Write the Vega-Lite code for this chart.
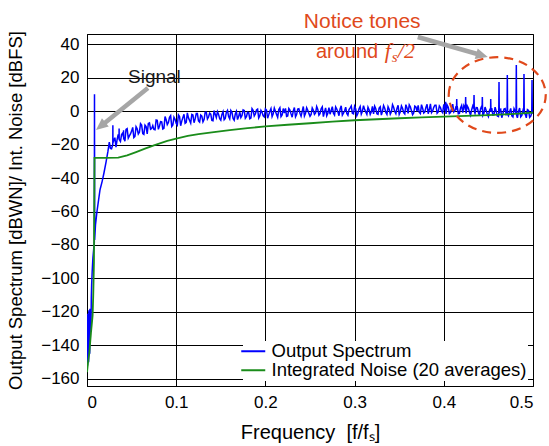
{
  "$schema": "https://vega.github.io/schema/vega-lite/v6.json",
  "width": 446,
  "height": 352,
  "autosize": {"type": "none"},
  "padding": {"left": 87, "top": 34, "right": 16, "bottom": 60},
  "background": "white",
  "config": {
    "view": {"stroke": "black", "strokeWidth": 1},
    "font": "Liberation Sans",
    "axis": {
      "labelFont": "Liberation Sans", "labelFontSize": 17, "labelColor": "black",
      "titleFont": "Liberation Sans", "titleFontWeight": "normal", "titleColor": "black",
      "ticks": false, "domainColor": "black", "domainWidth": 1,
      "gridColor": "black", "gridOpacity": 1, "gridWidth": 1
    },
    "legend": {
      "orient": "bottom-right", "offset": 5, "labelFont": "Liberation Sans", "labelFontSize": 18.5,
      "labelColor": "black", "symbolType": "M-2,0 L2,0", "symbolStrokeWidth": 2, "symbolSize": 144,
      "symbolFillColor": "transparent",
      "fillColor": "white", "padding": 1, "rowPadding": -4, "labelOffset": 9, "labelLimit": 400
    }
  },
  "datasets": {
    "spec": [
      {"f":0,"v":-150},{"f":0.0003,"v":-127},{"f":0.0006,"v":-152},{"f":0.0009,"v":-121},{"f":0.0012,"v":-147},{"f":0.0015,"v":-124},{"f":0.0018,"v":-150},{"f":0.0021,"v":-119},{"f":0.0024,"v":-143},{"f":0.0027,"v":-122},{"f":0.003,"v":-145},{"f":0.0033,"v":-118},{"f":0.0036,"v":-138},{"f":0.004,"v":-121},{"f":0.0044,"v":-132},{"f":0.0048,"v":-112},{"f":0.0052,"v":-104},{"f":0.0058,"v":-96},{"f":0.0066,"v":-88},{"f":0.0074,"v":-83},{"f":0.0082,"v":-79},{"f":0.0084,"v":10},{"f":0.0086,"v":-77},{"f":0.0095,"v":-68},{"f":0.0112,"v":-60},{"f":0.013,"v":-53},{"f":0.0146,"v":-47},{"f":0.017,"v":-42},{"f":0.019,"v":-37},{"f":0.0215,"v":-30},{"f":0.0235,"v":-24},
      {"f":0.025,"v":-18.6},{"f":0.02625,"v":-22.3},{"f":0.0275,"v":-22.5},{"f":0.0289,"v":-20},{"f":0.029,"v":-8.5},{"f":0.0291,"v":-19},{"f":0.03,"v":-17.6},{"f":0.03125,"v":-15.9},{"f":0.0325,"v":-21.6},{"f":0.03375,"v":-17.1},{"f":0.035,"v":-14.0},{"f":0.0359,"v":-16.5},{"f":0.036,"v":-10.5},{"f":0.0361,"v":-17},{"f":0.0375,"v":-18.2},{"f":0.03875,"v":-14.1},{"f":0.04,"v":-13.2},{"f":0.0409,"v":-15.5},{"f":0.041,"v":-11.5},{"f":0.0411,"v":-16},{"f":0.04125,"v":-15.9},{"f":0.0425,"v":-18.0},{"f":0.04375,"v":-11.0},{"f":0.045,"v":-10.5},{"f":0.04625,"v":-16.2},{"f":0.0475,"v":-14.8},{"f":0.04875,"v":-13.7},{"f":0.05,"v":-12.0},{"f":0.05125,"v":-9.8},{"f":0.0525,"v":-15.9},{"f":0.05375,"v":-15.2},{"f":0.055,"v":-9.4},{"f":0.05625,"v":-10.6},{"f":0.0575,"v":-13.7},{"f":0.05875,"v":-12.6},{"f":0.06,"v":-7.5},{"f":0.06125,"v":-8.4},{"f":0.0625,"v":-13.4},{"f":0.06375,"v":-13.9},{"f":0.065,"v":-8.4},{"f":0.06625,"v":-9.3},{"f":0.0675,"v":-13.7},{"f":0.06875,"v":-7.4},{"f":0.07,"v":-7.1},{"f":0.07125,"v":-10.9},{"f":0.0725,"v":-10.5},{"f":0.07375,"v":-8.7},{"f":0.075,"v":-11.0},{"f":0.07625,"v":-11.2},{"f":0.0775,"v":-5.3},{"f":0.07875,"v":-5.5},{"f":0.08,"v":-10.9},{"f":0.08125,"v":-8.9},{"f":0.0825,"v":-6.3},{"f":0.08375,"v":-6.5},{"f":0.085,"v":-10.7},{"f":0.08625,"v":-10.3},{"f":0.0875,"v":-3.3},{"f":0.08875,"v":-5.2},{"f":0.09,"v":-8.1},{"f":0.09125,"v":-6.9},{"f":0.0925,"v":-3.7},{"f":0.09375,"v":-2.7},{"f":0.095,"v":-9.2},{"f":0.09625,"v":-8.3},{"f":0.0975,"v":-3.7},{"f":0.09875,"v":-5.0},{"f":0.1,"v":-7.4},{"f":0.10125,"v":-8.4},{"f":0.1025,"v":-2.3},{"f":0.10375,"v":-3.3},{"f":0.105,"v":-8.8},{"f":0.10625,"v":-6.0},{"f":0.1075,"v":-3.8},{"f":0.10875,"v":-2.0},{"f":0.11,"v":-7.3},{"f":0.11125,"v":-6.8},{"f":0.1125,"v":-1.1},{"f":0.11375,"v":-4.1},{"f":0.115,"v":-5.6},{"f":0.11625,"v":-7.2},{"f":0.1175,"v":-2.0},{"f":0.11875,"v":-2.4},{"f":0.12,"v":-7.0},
      {"f":0.12125,"v":-4.7},{"f":0.1225,"v":-1.5},{"f":0.12375,"v":-1.5},{"f":0.125,"v":-5.9},{"f":0.12625,"v":-6.6},{"f":0.1275,"v":-2.4},{"f":0.12875,"v":-3.1},{"f":0.13,"v":-6.5},{"f":0.13125,"v":-5.1},{"f":0.1325,"v":-0.7},{"f":0.13375,"v":-0.7},{"f":0.135,"v":-4.8},{"f":0.13625,"v":-3.6},{"f":0.1375,"v":-1.2},{"f":0.13875,"v":-1.8},{"f":0.14,"v":-5.6},{"f":0.14125,"v":-5.8},{"f":0.1425,"v":0.2},{"f":0.14375,"v":-1.9},{"f":0.145,"v":-3.9},{"f":0.14625,"v":-0.4},{"f":0.1475,"v":-2.0},{"f":0.14875,"v":-4.6},{"f":0.15,"v":-5.5},{"f":0.15125,"v":-2.0},{"f":0.1525,"v":-0.4},{"f":0.15375,"v":-5.2},{"f":0.155,"v":-4.4},{"f":0.15625,"v":-0.7},{"f":0.1575,"v":0.4},{"f":0.15875,"v":-3.3},{"f":0.16,"v":-4.7},{"f":0.16125,"v":0.3},{"f":0.1625,"v":-0.8},{"f":0.16375,"v":-4.4},{"f":0.165,"v":-5.5},{"f":0.16625,"v":-1.8},{"f":0.1675,"v":-0.2},{"f":0.16875,"v":-5.1},{"f":0.17,"v":-3.3},{"f":0.17125,"v":-0.5},{"f":0.1725,"v":-3.9},{"f":0.17375,"v":-2.7},{"f":0.175,"v":0.7},{"f":0.17625,"v":0.3},{"f":0.1775,"v":-4.3},{"f":0.17875,"v":-3.4},{"f":0.18,"v":-0.7},{"f":0.18125,"v":-0.9},{"f":0.1825,"v":-4.6},{"f":0.18375,"v":-4.2},{"f":0.185,"v":1.4},{"f":0.18625,"v":0.4},{"f":0.1875,"v":-2.9},{"f":0.18875,"v":-1.8},{"f":0.19,"v":0.6},{"f":0.19125,"v":1.1},{"f":0.1925,"v":-4.1},{"f":0.19375,"v":-2.8},{"f":0.195,"v":0.4},{"f":0.19625,"v":-0.8},{"f":0.1975,"v":-2.9},{"f":0.19875,"v":-3.5},{"f":0.2,"v":1.3},
      {"f":0.20125,"v":0.6},{"f":0.2025,"v":-4.3},{"f":0.20375,"v":-2.3},{"f":0.205,"v":-0.2},{"f":0.20625,"v":1.4},{"f":0.2075,"v":-3.3},{"f":0.20875,"v":-1.6},{"f":0.21,"v":1.8},{"f":0.21125,"v":-0.1},{"f":0.2125,"v":-2.0},{"f":0.21375,"v":-3.7},{"f":0.215,"v":0.9},{"f":0.21625,"v":2.0},{"f":0.2175,"v":-3.4},{"f":0.21875,"v":-2.4},{"f":0.22,"v":1.5},{"f":0.22125,"v":-1.2},{"f":0.2225,"v":1.6},{"f":0.22375,"v":-3.2},{"f":0.225,"v":-2.9},{"f":0.22625,"v":1.5},{"f":0.2275,"v":0.5},{"f":0.22875,"v":-1.7},{"f":0.23,"v":-3.7},{"f":0.23125,"v":0.0},{"f":0.2325,"v":2.1},{"f":0.23375,"v":-3.5},{"f":0.235,"v":-2.1},{"f":0.23625,"v":1.2},{"f":0.2375,"v":1.4},{"f":0.23875,"v":-1.3},{"f":0.24,"v":-3.1},{"f":0.24125,"v":-0.2},{"f":0.2425,"v":2.7},{"f":0.24375,"v":-3.0},{"f":0.245,"v":-1.4},{"f":0.24625,"v":2.0},{"f":0.2475,"v":0.5},{"f":0.24875,"v":-1.4},{"f":0.25,"v":-3.1},
      {"f":0.25125,"v":-2.0},{"f":0.2525,"v":1.9},{"f":0.25375,"v":0.5},{"f":0.255,"v":-2.0},{"f":0.25625,"v":-1.1},{"f":0.2575,"v":2.7},{"f":0.25875,"v":1.0},{"f":0.26,"v":-2.5},{"f":0.26125,"v":-1.6},{"f":0.2625,"v":1.4},{"f":0.26375,"v":2.5},{"f":0.265,"v":-3.3},{"f":0.26625,"v":-0.6},{"f":0.2675,"v":1.9},{"f":0.26875,"v":-2.8},{"f":0.27,"v":-1.3},{"f":0.27125,"v":2.0},{"f":0.2725,"v":-1.9},{"f":0.27375,"v":0.3},{"f":0.275,"v":2.6},{"f":0.27625,"v":-1.3},{"f":0.2775,"v":-2.4},{"f":0.27875,"v":2.5},{"f":0.28,"v":1.2},{"f":0.28125,"v":-0.5},{"f":0.2825,"v":-2.8},{"f":0.28375,"v":1.3},{"f":0.285,"v":3.1},{"f":0.28625,"v":-2.4},{"f":0.2875,"v":-1.2},{"f":0.28875,"v":0.0},{"f":0.29,"v":2.3},{"f":0.29125,"v":-1.4},{"f":0.2925,"v":-2.5},{"f":0.29375,"v":0.9},{"f":0.295,"v":1.9},{"f":0.29625,"v":3.0},{"f":0.2975,"v":-1.3},{"f":0.29875,"v":-1.7},{"f":0.3,"v":2.8},
      {"f":0.30125,"v":1.2},{"f":0.3025,"v":-2.8},{"f":0.30375,"v":-1.3},{"f":0.305,"v":1.3},{"f":0.30625,"v":2.7},{"f":0.3075,"v":-1.8},{"f":0.30875,"v":-0.1},{"f":0.31,"v":3.2},{"f":0.31125,"v":1.0},{"f":0.3125,"v":-0.6},{"f":0.31375,"v":-2.0},{"f":0.315,"v":2.3},{"f":0.31625,"v":0.7},{"f":0.3175,"v":-2.0},{"f":0.31875,"v":-0.4},{"f":0.32,"v":2.8},{"f":0.32125,"v":-1.7},{"f":0.3225,"v":2.9},{"f":0.32375,"v":1.3},{"f":0.325,"v":-1.6},{"f":0.32625,"v":-2.0},{"f":0.3275,"v":1.8},{"f":0.32875,"v":2.6},{"f":0.33,"v":-2.4},{"f":0.33125,"v":-0.1},{"f":0.3325,"v":3.3},{"f":0.33375,"v":1.7},{"f":0.335,"v":-0.9},{"f":0.33625,"v":-2.1},{"f":0.3375,"v":2.6},{"f":0.33875,"v":1.1},{"f":0.34,"v":-1.9},{"f":0.34125,"v":-0.5},{"f":0.3425,"v":3.8},{"f":0.34375,"v":2.2},{"f":0.345,"v":-0.3},{"f":0.34625,"v":-1.6},{"f":0.3475,"v":1.6},{"f":0.34875,"v":3.4},{"f":0.35,"v":-2.0},
      {"f":0.35125,"v":-0.5},{"f":0.3525,"v":3.0},{"f":0.35375,"v":1.6},{"f":0.355,"v":-0.9},{"f":0.35625,"v":-1.7},{"f":0.3575,"v":3.8},{"f":0.35875,"v":1.9},{"f":0.36,"v":-1.4},{"f":0.36125,"v":3.7},{"f":0.3625,"v":2.5},{"f":0.36375,"v":0.2},{"f":0.365,"v":-2.2},{"f":0.36625,"v":-1.1},{"f":0.3675,"v":3.0},{"f":0.36875,"v":2.5},{"f":0.37,"v":-0.1},{"f":0.37125,"v":3.4},{"f":0.3725,"v":-0.8},{"f":0.37375,"v":-1.5},{"f":0.375,"v":3.8},{"f":0.37625,"v":1.7},{"f":0.3775,"v":-1.2},{"f":0.37875,"v":-0.5},{"f":0.38,"v":2.3},{"f":0.38125,"v":4.0},{"f":0.3825,"v":-1.6},{"f":0.38375,"v":0.9},{"f":0.385,"v":4.3},{"f":0.38625,"v":-1.0},{"f":0.3875,"v":0.0},{"f":0.38875,"v":2.2},{"f":0.39,"v":3.5},{"f":0.39125,"v":3.5},{"f":0.3925,"v":-1.3},{"f":0.39375,"v":-0.5},{"f":0.395,"v":3.1},{"f":0.39625,"v":2.1},{"f":0.3975,"v":-0.1},{"f":0.39875,"v":-1.0},{"f":0.4,"v":4.0},
      {"f":0.40125,"v":1.1},{"f":0.4018,"v":1.5},{"f":0.402,"v":5.5},{"f":0.4022,"v":1.0},{"f":0.4025,"v":-1.7},{"f":0.40375,"v":3.6},{"f":0.405,"v":2.3},{"f":0.40625,"v":-1.5},{"f":0.4075,"v":-0.9},{"f":0.40875,"v":1.6},{"f":0.41,"v":4.1},{"f":0.41125,"v":-0.6},{"f":0.4125,"v":0.2},{"f":0.41375,"v":2.9},{"f":0.4142,"v":1.0},{"f":0.4145,"v":7.2},{"f":0.4148,"v":0.5},{"f":0.415,"v":2.9},{"f":0.41625,"v":-1.6},{"f":0.4175,"v":-1.4},{"f":0.41875,"v":1.8},{"f":0.42,"v":3.3},{"f":0.42125,"v":-1.0},{"f":0.4225,"v":3.3},{"f":0.42375,"v":2.0},{"f":0.4242,"v":0.5},{"f":0.4245,"v":8.4},{"f":0.4248,"v":-0.5},{"f":0.425,"v":-1.4},{"f":0.42625,"v":3.1},{"f":0.4275,"v":1.8},{"f":0.42875,"v":-0.6},{"f":0.43,"v":-2.5},{"f":0.43125,"v":0.8},{"f":0.4325,"v":3.1},{"f":0.4336,"v":1.5},{"f":0.4339,"v":9.6},{"f":0.4342,"v":0.0},{"f":0.435,"v":-1.3},{"f":0.43625,"v":2.1},{"f":0.4375,"v":2.0},{"f":0.43875,"v":-0.7},{"f":0.44,"v":-2.6},{"f":0.44125,"v":1.4},{"f":0.4425,"v":3.0},{"f":0.4429,"v":1.0},{"f":0.4432,"v":8.4},{"f":0.4435,"v":0.0},{"f":0.44375,"v":-2.6},{"f":0.445,"v":-1.3},{"f":0.44625,"v":2.4},{"f":0.4475,"v":0.4},{"f":0.44875,"v":-1.9},{"f":0.45,"v":-3.3},{"f":0.45125,"v":0.4},{"f":0.4525,"v":1.7},{"f":0.4526,"v":7.2},{"f":0.4529,"v":-0.5},{"f":0.45375,"v":1.7},{"f":0.455,"v":-2.4},{"f":0.45625,"v":-2.3},{"f":0.4575,"v":2.3},{"f":0.45875,"v":-0.1},{"f":0.46,"v":-3.0},{"f":0.46125,"v":-3.3},{"f":0.4616,"v":-1.0},{"f":0.4619,"v":17.3},{"f":0.4622,"v":-1.5},{"f":0.4625,"v":0.8},{"f":0.46375,"v":1.1},{"f":0.465,"v":-4.0},{"f":0.46625,"v":-1.6},{"f":0.4675,"v":1.2},{"f":0.46875,"v":1.5},{"f":0.47,"v":-2.1},{"f":0.4709,"v":-1.5},{"f":0.4712,"v":21.5},{"f":0.4715,"v":-2.0},{"f":0.4725,"v":-2.9},{"f":0.47375,"v":-0.6},{"f":0.475,"v":1.6},{"f":0.47625,"v":-2.9},{"f":0.4775,"v":-3.5},{"f":0.47875,"v":1.4},{"f":0.48,"v":0.0},{"f":0.481,"v":-1.5},{"f":0.4813,"v":27.5},{"f":0.4816,"v":-2.5},{"f":0.4825,"v":-4.1},{"f":0.48375,"v":-0.3},{"f":0.485,"v":1.8},{"f":0.48625,"v":-3.5},{"f":0.4875,"v":-2.6},{"f":0.48875,"v":0.3},{"f":0.4896,"v":-1.0},{"f":0.4899,"v":22.1},{"f":0.4902,"v":-1.5},{"f":0.49125,"v":-1.8},{"f":0.4925,"v":-4.1},{"f":0.49375,"v":0.8},{"f":0.495,"v":0.3},{"f":0.49625,"v":-3.8},{"f":0.4975,"v":-3.1},{"f":0.4986,"v":-1.0},{"f":0.4989,"v":18.5},{"f":0.4992,"v":-1.5},{"f":0.5,"v":1.0}
    ],
    "noise": [
      {"f":0,"v":-156},{"f":0.0012,"v":-150},{"f":0.0025,"v":-145},{"f":0.0045,"v":-132},{"f":0.0063,"v":-122},{"f":0.007,"v":-110},{"f":0.0078,"v":-90},{"f":0.0084,"v":-28},{"f":0.02,"v":-28},{"f":0.035,"v":-27.8},{"f":0.045,"v":-26.5},{"f":0.055,"v":-24.5},{"f":0.065,"v":-22.5},{"f":0.075,"v":-20.5},{"f":0.09,"v":-17.8},{"f":0.1,"v":-16.5},{"f":0.113,"v":-14.8},{"f":0.125,"v":-13.8},{"f":0.14,"v":-12.8},{"f":0.16,"v":-11.4},{"f":0.18,"v":-10.2},{"f":0.2,"v":-9.2},{"f":0.225,"v":-8.2},{"f":0.25,"v":-7.3},{"f":0.275,"v":-6.3},{"f":0.3,"v":-5.5},{"f":0.325,"v":-4.9},{"f":0.35,"v":-4.3},{"f":0.375,"v":-3.8},{"f":0.4,"v":-3.3},{"f":0.425,"v":-2.9},{"f":0.45,"v":-2.4},{"f":0.475,"v":-1.8},{"f":0.5,"v":-1.0}
    ]
  },
  "encoding": {
    "x": {"field": "f", "type": "quantitative",
      "scale": {"domain": [0, 0.5], "nice": false, "zero": false},
      "axis": {"values": [0, 0.1, 0.2, 0.3, 0.4, 0.5], "format": "~g", "labelPadding": 8,
        "title": "Frequency\u00a0\u00a0[f/fₛ]", "titleFontSize": 20, "titlePadding": 12}},
    "y": {"field": "v", "type": "quantitative",
      "scale": {"domain": [-164.2, 46], "nice": false, "zero": false},
      "axis": {"values": [-160, -140, -120, -100, -80, -60, -40, -20, 0, 20, 40], "format": "d", "labelPadding": 8,
        "title": "Output Spectrum [dBWN]/ Int. Noise [dBFS]", "titleFontSize": 18.5, "titlePadding": 15}}
  },
  "layer": [
    {
      "data": {"name": "spec"},
      "mark": {"type": "line", "strokeWidth": 1.5, "clip": true},
      "encoding": {
        "color": {"datum": "Output Spectrum", "type": "nominal",
          "scale": {"domain": ["Output Spectrum", "Integrated Noise (20 averages)"], "range": ["#0000ff", "#1a8c1a"]},
          "legend": {"title": null}}
      }
    },
    {
      "data": {"name": "noise"},
      "mark": {"type": "line", "strokeWidth": 1.8, "clip": true},
      "encoding": {
        "color": {"datum": "Integrated Noise (20 averages)", "type": "nominal"}
      }
    },
    {
      "data": {"values": [{"f": 0.4599, "v": 9.55}]},
      "mark": {"type": "point", "shape": "M-1,0 A1,0.78 0 1,1 1,0 A1,0.78 0 1,1 -1,0 Z", "size": 9409,
        "filled": false, "stroke": "#e0491b", "strokeWidth": 2.2, "strokeDash": [9, 6], "opacity": 1}
    },
    {
      "data": {"values": [{"f": 0.0683, "v": 13.7, "f2": 0.0171, "v2": -8.4}, {"f": 0.3708, "v": 44.2, "f2": 0.4406, "v2": 33.6}]},
      "mark": {"type": "rule", "stroke": "#a6a6a6", "strokeWidth": 4.5},
      "encoding": {"x2": {"field": "f2"}, "y2": {"field": "v2"}}
    },
    {
      "data": {"values": [{"f": 0.0101, "v": -11.3}]},
      "mark": {"type": "point", "shape": "M0,0 L0.45,1 L-0.45,1 Z", "size": 576, "filled": true,
        "color": "#a6a6a6", "opacity": 1, "angle": 231}
    },
    {
      "data": {"values": [{"f": 0.4493, "v": 32.2}]},
      "mark": {"type": "point", "shape": "M0,0 L0.45,1 L-0.45,1 Z", "size": 576, "filled": true,
        "color": "#a6a6a6", "opacity": 1, "angle": 106}
    },
    {
      "data": {"values": [{"f": 0.0756, "v": 16.7, "t": "Signal"}]},
      "mark": {"type": "text", "font": "Liberation Sans", "fontSize": 19, "color": "#1a1a1a", "align": "center", "baseline": "alphabetic"},
      "encoding": {"text": {"field": "t"}}
    },
    {
      "data": {"values": [{"f": 0.2431, "v": 49.6, "t": "Notice tones"}]},
      "mark": {"type": "text", "font": "Liberation Sans", "fontSize": 21, "color": "#e0491b", "align": "left", "baseline": "alphabetic"},
      "encoding": {"text": {"field": "t"}}
    },
    {
      "data": {"values": [{"f": 0.2566, "v": 31.6, "t": "around"}]},
      "mark": {"type": "text", "font": "Liberation Sans", "fontSize": 20, "color": "#e0491b", "align": "left", "baseline": "alphabetic"},
      "encoding": {"text": {"field": "t"}}
    },
    {
      "data": {"values": [{"f": 0.3339, "v": 31.6, "t": "f"}, {"f": 0.3485, "v": 31.6, "t": "/2"}]},
      "mark": {"type": "text", "font": "Liberation Serif", "fontStyle": "italic", "fontSize": 22, "color": "#e0491b", "align": "left", "baseline": "alphabetic"},
      "encoding": {"text": {"field": "t"}}
    },
    {
      "data": {"values": [{"f": 0.3417, "v": 29.3, "t": "s"}]},
      "mark": {"type": "text", "font": "Liberation Serif", "fontStyle": "italic", "fontSize": 15, "color": "#e0491b", "align": "left", "baseline": "alphabetic"},
      "encoding": {"text": {"field": "t"}}
    }
  ]
}
